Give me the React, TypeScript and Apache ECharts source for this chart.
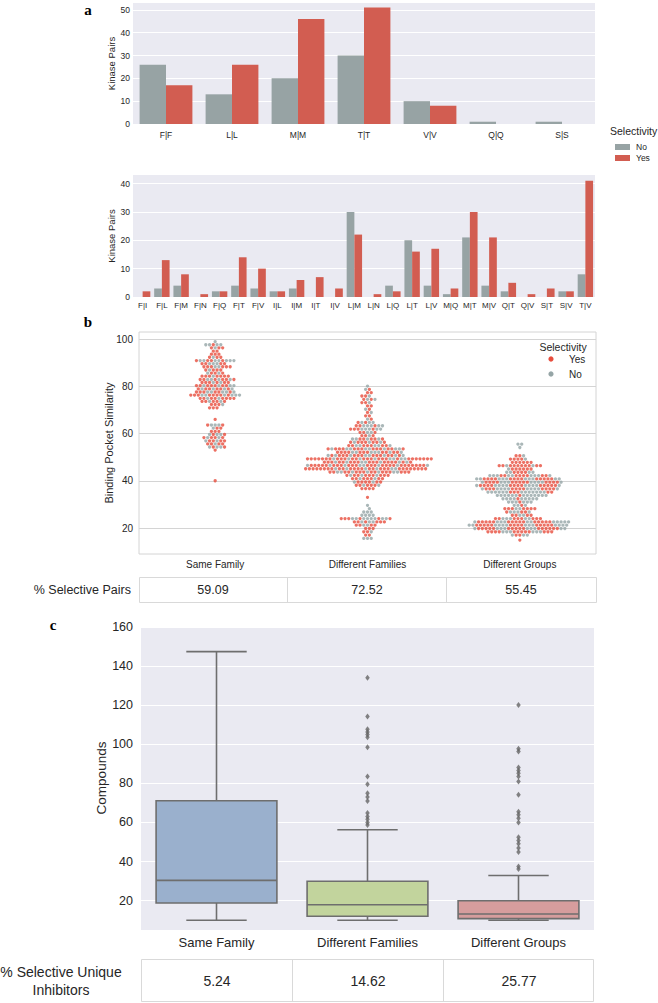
import React, { useEffect, useRef } from "react";
import * as echarts from "echarts";

// ---------------- DATA ----------------
const topCats = ["F|F", "L|L", "M|M", "T|T", "V|V", "Q|Q", "S|S"];
const topNo = [26, 13, 20, 30, 10, 1, 1];
const topYes = [17, 26, 46, 51, 8, 0, 0];
const topTicks = [0, 10, 20, 30, 40, 50];

const bottomCats = ["F|I", "F|L", "F|M", "F|N", "F|Q", "F|T", "F|V", "I|L", "I|M", "I|T", "I|V", "L|M", "L|N", "L|Q", "L|T", "L|V", "M|Q", "M|T", "M|V", "Q|T", "Q|V", "S|T", "S|V", "T|V"];
const bottomNo = [0, 3, 4, 0, 2, 4, 3, 2, 3, 0, 0, 30, 0, 4, 20, 4, 1, 21, 4, 2, 0, 0, 2, 8];
const bottomYes = [2, 13, 8, 1, 2, 14, 10, 2, 6, 7, 3, 22, 1, 2, 16, 17, 3, 30, 21, 5, 1, 3, 2, 41];
const bottomTicks = [0, 10, 20, 30, 40];

const groupCats = ["Same Family", "Different Families", "Different Groups"];
const swarmTicks = [20, 40, 60, 80, 100];

// swarm rows: [similarity value, selectivity of the dots left->right (Y = Yes, N = No)]
const sameFamilyRows: [number, string][] = [
  [98.9, "N"], [97.6, "NNYNN"], [96.3, "YNYY"], [94.9, "YY"], [93.6, "YYY"], [92.3, "YNYY"],
  [90.9, "YNNYYNNYNNN"], [89.6, "YYNNNYY"], [88.3, "YYYNNYYY"], [86.9, "YNYYY"], [85.6, "NYYNY"],
  [84.3, "YYYNYYYY"], [82.9, "YYNNYNYYNY"], [81.6, "YYYNYNYY"], [80.3, "YYNYYYNYYNN"],
  [78.9, "YNYYNYYNYN"], [77.6, "YYYNNYYNNYN"], [76.3, "YYYNNYYYYNYNNN"], [74.9, "YYNYYNYYYY"],
  [73.6, "YYNYYNY"], [72.3, "YYYN"], [70.9, "YYY"], [66.0, "Y"], [63.6, "YNNNY"], [62.3, "NYY"],
  [60.9, "YYY"], [59.6, "NYNNY"], [58.3, "YNYYNY"], [56.9, "NYYNYY"], [55.6, "YYNYY"],
  [54.3, "NYNNY"], [53.0, "Y"], [40.0, "Y"],
];
const differentFamiliesRows: [number, string][] = [
  [80.1, "N"], [78.7, "NY"], [77.3, "YY"], [75.9, "YYN"], [74.5, "YNYN"], [73.1, "YYN"], [71.7, "YY"],
  [70.3, "NY"], [68.9, "YN"], [67.5, "YY"], [66.1, "NY"], [64.7, "YNYNN"], [63.3, "YYNNNYNN"],
  [61.9, "YYYNNNYNN"], [60.5, "YYNNY"], [59.1, "YYNY"], [57.7, "NNYYNYYNY"], [56.3, "YNYYYNYYNY"],
  [54.9, "YYNNYYYNNYYN"], [53.5, "YNYYYNNYYYNNYYYNYYNNY"], [52.1, "YYYYNNYYYNNNYYNYYN"],
  [50.7, "NYNYYYNYYYNNYYYNYYNYN"], [49.3, "YYYYYYYNYYYNYYNYYYNYYYNNYNNYYYYYYY"],
  [47.9, "YYYNYYNYYYNNYYYNYYYYNYNY"], [46.5, "NYYYYYNYYYNYYYNNYYYNYYYYNYYYYYYYN"],
  [45.1, "YYYYYYYYNYYNYYYYNYYNYYYNNYYYYYYYY"], [43.7, "YYNNYYNYYYNYYNYYYNNYYY"],
  [42.3, "YNYYNYYYNYYY"], [40.9, "YYNYYYNYY"], [39.5, "NYYYYNYY"], [38.1, "YYNYYYN"], [36.7, "YYYY"],
  [33.0, "Y"], [29.6, "N"], [28.2, "N"], [26.8, "NNN"], [25.4, "NNNN"], [24.0, "YYYNNYNNNNYNNY"],
  [22.6, "YYNYNNYYY"], [21.2, "YYNNYY"], [19.8, "YYY"], [18.4, "YYN"], [17.0, "YY"], [15.6, "NNN"],
];
const differentGroupsRows: [number, string][] = [
  [55.5, "NN"], [54.1, "N"], [50.6, "YYN"], [49.2, "YYYYN"], [47.8, "YYYYYY"], [46.4, "YYNYYYYYYNYY"],
  [45.0, "NYYYYYY"], [43.6, "NNYYYYNN"], [42.2, "NNNYYNNYYYYNNNYYN"],
  [40.8, "NNYYYYNNNYYYYNNNYYYYYNN"], [39.4, "NYYYYNNNYYYYYNNNNYYYYN"],
  [38.0, "NYYYYNNNNYYYYNNNNYYYYYN"], [36.6, "NYYYNNNNYYYYNNNNYYYYN"], [35.2, "NNNNNNYYYNNNNNNNYY"],
  [33.8, "NNNNNNYNNNNNNN"], [32.4, "NNNNYNNNNN"], [31.0, "NNNYNNN"], [29.6, "NNYN"],
  [28.2, "YYYNNYYYY"], [26.8, "YNNNYYN"], [25.4, "YYNNYY"], [24.0, "YYNNNYYYNNYYY"],
  [22.6, "NYYYYYNNNYYYYYNNYYYYYNNNNN"], [21.2, "NNYYYYYNNNNYYYYNNNYYYYYNNNN"],
  [19.8, "NYYYYYNNNYYYYYNNNYYYYYYNN"], [18.4, "YYYYNNNYYYYYNNNYYY"], [17.0, "NYYNN"], [14.9, "Y"],
];
const selectivePairs = ["59.09", "72.52", "55.45"];

const boxLow = [10, 10, 10];
const boxQ1 = [18.8, 12, 10.8];
const boxMedian = [30.4, 17.9, 13.2];
const boxQ3 = [71.1, 29.9, 20];
const boxHigh = [147.4, 56.3, 32.9];
const outliersSameFamily: number[] = [];
const outliersDifferentFamilies = [134.1, 114.2, 107.7, 106.3, 105, 103.6, 98.5, 83.5, 79.6, 75, 73, 71, 64.8, 63.1, 61.7, 60, 58.7];
const outliersDifferentGroups = [120.1, 97.7, 96.3, 88.1, 86.6, 85.2, 83.5, 81, 74.2, 65.5, 64, 62.2, 60, 52.5, 50.8, 49.1, 46.9, 44.9, 37.5, 36.2];
const boxTicks = [20, 40, 60, 80, 100, 120, 140, 160];
const selectiveInhibitors = ["5.24", "14.62", "25.77"];

// ---------------- STYLE / LAYOUT ----------------
const FONT = "'Liberation Sans', Arial, sans-serif";
const SERIF = "'Liberation Serif', 'Times New Roman', serif";
const TEXT = "#262626";
const DARK_BG = "#EAEAF2";
const GRAY_BAR = "#97a3a4";
const RED_BAR = "#d25d51";
const RED_DOT = "#e74c3c";
const GRAY_DOT = "#95a5a6";
const BOX_COLORS = ["#9ab0cd", "#c2d49d", "#d69d9d"];
const BOX_LINE = "#6e6e6e";

const GA1 = { left: 133, top: 3, width: 462, height: 121 };
const GA2 = { left: 133, top: 175, width: 462, height: 122 };
const GB = { left: 139, top: 332, width: 457, height: 222 };
const GC = { left: 141, top: 627, width: 453, height: 303 };
const B_MIN = 9, B_MAX = 103;
const PX_PER_UNIT_B = GB.height / (B_MAX - B_MIN);
const PX_PER_CAT_B = GB.width / 3;

// row-based swarm layout: dots of a row side by side, neighbouring rows interleaved
function layoutSwarm(rows: [number, string][], gi: number, yes: number[][], no: number[][]) {
  const S = 3.75;
  let prevY = -1e9;
  let prevPhase = -1;
  rows.forEach(([v, pat], r) => {
    const k = pat.length;
    const y = v * PX_PER_UNIT_B;
    const phase = k % 2 === 1 ? 0 : S / 2;
    let shift = 0;
    if (Math.abs(prevY - y) < S && Math.abs(phase - prevPhase) < 0.01) shift = (r % 2 === 0 ? 1 : -1) * (S / 2);
    for (let i = 0; i < k; i++) {
      const x = (i - (k - 1) / 2) * S + shift;
      (pat[i] === "Y" ? yes : no).push([gi + x / PX_PER_CAT_B, v]);
    }
    prevPhase = (((phase + shift) % S) + S) % S;
    prevY = y;
  });
}

function valueAxis(gridIndex: number, min: number, max: number, ticks: number[], fontSize: number, margin: number, splitColor: string) {
  return {
    type: "value", gridIndex, min, max,
    axisLine: { show: false },
    axisTick: { show: false, customValues: ticks },
    axisLabel: { customValues: ticks, color: TEXT, fontSize, margin, fontFamily: FONT },
    splitLine: { show: true, lineStyle: { color: splitColor, width: 1.1 } },
  };
}
function catAxis(gridIndex: number, data: string[], fontSize: number, margin: number) {
  return {
    type: "category", gridIndex, data,
    axisLine: { show: false }, axisTick: { show: false }, splitLine: { show: false },
    axisLabel: { interval: 0, color: TEXT, fontSize, margin, fontFamily: FONT },
  };
}
function txt(text: string, x: number, y: number, size: number, opts: any = {}) {
  return {
    type: "text", x, y, rotation: opts.rotation || 0, z: 10,
    style: {
      text, fill: opts.fill || TEXT, fontSize: size, fontFamily: opts.family || FONT,
      fontWeight: opts.weight || "normal", textAlign: opts.align || "center", textVerticalAlign: "middle",
    },
  };
}

function buildOption() {
  const yes: number[][] = [];
  const no: number[][] = [];
  layoutSwarm(sameFamilyRows, 0, yes, no);
  layoutSwarm(differentFamiliesRows, 1, yes, no);
  layoutSwarm(differentGroupsRows, 2, yes, no);

  const boxData = groupCats.map((_, i) => [i, boxLow[i], boxQ1[i], boxMedian[i], boxQ3[i], boxHigh[i]]);
  const outlierData: number[][] = [];
  [outliersSameFamily, outliersDifferentFamilies, outliersDifferentGroups].forEach((arr, i) =>
    arr.forEach((v) => outlierData.push([i, v]))
  );

  const tableLine = "#d9d9d9";
  const graphics: any[] = [
    txt("a", 88, 10, 15, { family: SERIF, weight: "bold", fill: "#000" }),
    txt("b", 88, 322, 15, { family: SERIF, weight: "bold", fill: "#000" }),
    txt("c", 53, 625, 15, { family: SERIF, weight: "bold", fill: "#000" }),
    txt("Kinase Pairs", 111, 63.5, 9.5, { rotation: Math.PI / 2 }),
    txt("Kinase Pairs", 111, 236, 9.5, { rotation: Math.PI / 2 }),
    txt("Binding Pocket Similarity", 108.5, 443, 11, { rotation: Math.PI / 2 }),
    txt("Compounds", 101, 778, 13.5, { rotation: Math.PI / 2 }),
    // legend a
    txt("Selectivity", 610, 131, 10.5, { align: "left" }),
    { type: "rect", shape: { x: 615, y: 144, width: 15, height: 6 }, style: { fill: GRAY_BAR } },
    txt("No", 636, 147, 8.5, { align: "left" }),
    { type: "rect", shape: { x: 615, y: 155, width: 15, height: 6 }, style: { fill: RED_BAR } },
    txt("Yes", 636, 158, 8.5, { align: "left" }),
    // legend b
    txt("Selectivity", 563, 347, 10.5),
    { type: "circle", shape: { cx: 551, cy: 359, r: 2.6 }, style: { fill: RED_DOT } },
    txt("Yes", 569, 359, 10, { align: "left" }),
    { type: "circle", shape: { cx: 551, cy: 374, r: 2.6 }, style: { fill: GRAY_DOT } },
    txt("No", 569, 374, 10, { align: "left" }),
    // table b
    { type: "rect", shape: { x: 139.5, y: 577.5, width: 457, height: 25 }, style: { fill: "#fff", stroke: tableLine, lineWidth: 1 } },
    { type: "line", shape: { x1: 287.5, y1: 577.5, x2: 287.5, y2: 602.5 }, style: { stroke: tableLine, lineWidth: 1 } },
    { type: "line", shape: { x1: 446.5, y1: 577.5, x2: 446.5, y2: 602.5 }, style: { stroke: tableLine, lineWidth: 1 } },
    txt("% Selective Pairs", 131, 590, 12.5, { align: "right" }),
    txt(selectivePairs[0], 213, 590, 12.5),
    txt(selectivePairs[1], 367, 590, 12.5),
    txt(selectivePairs[2], 521, 590, 12.5),
    // table c
    { type: "rect", shape: { x: 141.5, y: 959.5, width: 452, height: 42 }, style: { fill: "#fff", stroke: tableLine, lineWidth: 1 } },
    { type: "line", shape: { x1: 292.5, y1: 959.5, x2: 292.5, y2: 1001.5 }, style: { stroke: tableLine, lineWidth: 1 } },
    { type: "line", shape: { x1: 443.5, y1: 959.5, x2: 443.5, y2: 1001.5 }, style: { stroke: tableLine, lineWidth: 1 } },
    txt("% Selective Unique", 61, 972, 14),
    txt("Inhibitors", 61, 990, 14),
    txt(selectiveInhibitors[0], 217, 981, 14),
    txt(selectiveInhibitors[1], 368, 981, 14),
    txt(selectiveInhibitors[2], 519, 981, 14),
  ];

  return {
    animation: false,
    backgroundColor: "#ffffff",
    grid: [
      { ...GA1, show: true, backgroundColor: DARK_BG, borderWidth: 0 },
      { ...GA2, show: true, backgroundColor: DARK_BG, borderWidth: 0 },
      { ...GB, show: true, backgroundColor: "#ffffff", borderColor: "#d4d4d4", borderWidth: 1 },
      { ...GC, show: true, backgroundColor: DARK_BG, borderWidth: 0 },
    ],
    xAxis: [
      catAxis(0, topCats, 8.5, 6.5),
      catAxis(1, bottomCats, 8, 4),
      catAxis(2, groupCats, 10, 5),
      { type: "value", gridIndex: 2, min: -0.5, max: 2.5, show: false },
      catAxis(3, groupCats, 13, 6),
    ],
    yAxis: [
      valueAxis(0, 0, 53, topTicks, 8.5, 3, "#ffffff"),
      valueAxis(1, 0, 43, bottomTicks, 8.5, 3, "#ffffff"),
      valueAxis(2, B_MIN, B_MAX, swarmTicks, 10, 6, "#d4d4d4"),
      valueAxis(3, 5, 160, boxTicks, 12.5, 8, "#ffffff"),
    ],
    graphic: graphics,
    series: [
      { type: "bar", name: "No", xAxisIndex: 0, yAxisIndex: 0, data: topNo, barWidth: "40%", barGap: "0%", itemStyle: { color: GRAY_BAR } },
      { type: "bar", name: "Yes", xAxisIndex: 0, yAxisIndex: 0, data: topYes, barWidth: "40%", barGap: "0%", itemStyle: { color: RED_BAR } },
      { type: "bar", name: "No", xAxisIndex: 1, yAxisIndex: 1, data: bottomNo, barWidth: "40%", barGap: "0%", itemStyle: { color: GRAY_BAR } },
      { type: "bar", name: "Yes", xAxisIndex: 1, yAxisIndex: 1, data: bottomYes, barWidth: "40%", barGap: "0%", itemStyle: { color: RED_BAR } },
      { type: "scatter", name: "Yes", xAxisIndex: 3, yAxisIndex: 2, data: yes, symbolSize: 3.3, itemStyle: { color: RED_DOT } },
      { type: "scatter", name: "No", xAxisIndex: 3, yAxisIndex: 2, data: no, symbolSize: 3.3, itemStyle: { color: GRAY_DOT } },
      {
        type: "custom", xAxisIndex: 4, yAxisIndex: 3, data: boxData,
        encode: { x: 0, y: [1, 2, 3, 4, 5] },
        renderItem: (params: any, api: any) => {
          const idx = api.value(0);
          const lo = api.coord([idx, api.value(1)]);
          const q1 = api.coord([idx, api.value(2)]);
          const md = api.coord([idx, api.value(3)]);
          const q3 = api.coord([idx, api.value(4)]);
          const hi = api.coord([idx, api.value(5)]);
          const bw = api.size([1, 0])[0] * 0.8;
          const cx = lo[0];
          const st = { stroke: BOX_LINE, lineWidth: 1.6 };
          return {
            type: "group",
            children: [
              { type: "line", shape: { x1: cx, y1: q3[1], x2: cx, y2: hi[1] }, style: st },
              { type: "line", shape: { x1: cx, y1: q1[1], x2: cx, y2: lo[1] }, style: st },
              { type: "line", shape: { x1: cx - bw / 4, y1: hi[1], x2: cx + bw / 4, y2: hi[1] }, style: st },
              { type: "line", shape: { x1: cx - bw / 4, y1: lo[1], x2: cx + bw / 4, y2: lo[1] }, style: st },
              { type: "rect", shape: { x: cx - bw / 2, y: q3[1], width: bw, height: q1[1] - q3[1] }, style: { fill: BOX_COLORS[idx], stroke: BOX_LINE, lineWidth: 1.6 } },
              { type: "line", shape: { x1: cx - bw / 2, y1: md[1], x2: cx + bw / 2, y2: md[1] }, style: st },
            ],
          };
        },
      },
      { type: "scatter", xAxisIndex: 4, yAxisIndex: 3, data: outlierData, symbol: "diamond", symbolSize: [4.5, 6], itemStyle: { color: "#656565" } },
    ],
  };
}

export default function App() {
  const ref = useRef<HTMLDivElement>(null);
  useEffect(() => {
    const chart = echarts.init(ref.current!, null, { renderer: "svg" });
    chart.setOption(buildOption() as any);
    return () => chart.dispose();
  }, []);
  return <div ref={ref} style={{ position: "absolute", left: 0, top: 0, width: 658, height: 1003 }} />;
}
